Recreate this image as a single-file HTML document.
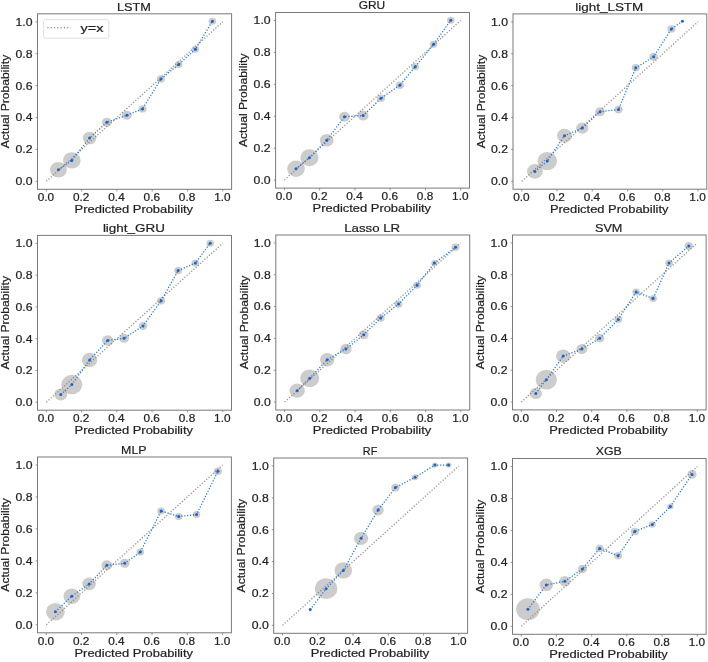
<!DOCTYPE html>
<html><head><meta charset="utf-8"><style>
html,body{margin:0;padding:0;background:#fff;width:708px;height:662px;overflow:hidden}
svg text{font-family:"Liberation Sans", sans-serif;fill:#222;stroke:#222;stroke-width:0.2px}
</style></head><body style="position:relative">
<svg width="708" height="662" viewBox="0 0 708 662" style="position:absolute;left:0;top:0;filter:blur(0.3px)">
<rect width="708" height="662" fill="#fff"/>
<g clip-path="url(#c0)"><clipPath id="c0"><rect x="37.5" y="13.8" width="194.1" height="175.5"/></clipPath><line x1="46.32" y1="181.32" x2="222.78" y2="21.78" stroke="#959595" stroke-width="1.35" stroke-dasharray="1.2 1.8" /><ellipse cx="58.4" cy="169.8" rx="8.40" ry="7.81" fill="#808080" fill-opacity="0.4"/><ellipse cx="71.8" cy="160.4" rx="8.80" ry="8.18" fill="#808080" fill-opacity="0.4"/><ellipse cx="89.6" cy="138.0" rx="6.80" ry="6.32" fill="#808080" fill-opacity="0.4"/><ellipse cx="106.9" cy="122.3" rx="4.90" ry="4.56" fill="#808080" fill-opacity="0.4"/><ellipse cx="126.9" cy="115.2" rx="4.90" ry="4.56" fill="#808080" fill-opacity="0.4"/><ellipse cx="142.5" cy="108.9" rx="4.00" ry="3.72" fill="#808080" fill-opacity="0.4"/><ellipse cx="160.9" cy="79.0" rx="4.00" ry="3.72" fill="#808080" fill-opacity="0.4"/><ellipse cx="178.7" cy="64.5" rx="3.80" ry="3.53" fill="#808080" fill-opacity="0.4"/><ellipse cx="195.4" cy="49.2" rx="3.80" ry="3.53" fill="#808080" fill-opacity="0.4"/><ellipse cx="212.4" cy="21.2" rx="3.80" ry="3.53" fill="#808080" fill-opacity="0.4"/><path d="M58.4,169.8 L71.8,160.4 L89.6,138.0 L106.9,122.3 L126.9,115.2 L142.5,108.9 L160.9,79.0 L178.7,64.5 L195.4,49.2 L212.4,21.2" fill="none" stroke="#2a7acc" stroke-width="1.3" stroke-dasharray="1.2 1.7"/><circle cx="58.4" cy="169.8" r="1.5" fill="#1f63c4"/><circle cx="71.8" cy="160.4" r="1.5" fill="#1f63c4"/><circle cx="89.6" cy="138.0" r="1.5" fill="#1f63c4"/><circle cx="106.9" cy="122.3" r="1.5" fill="#1f63c4"/><circle cx="126.9" cy="115.2" r="1.5" fill="#1f63c4"/><circle cx="142.5" cy="108.9" r="1.5" fill="#1f63c4"/><circle cx="160.9" cy="79.0" r="1.5" fill="#1f63c4"/><circle cx="178.7" cy="64.5" r="1.5" fill="#1f63c4"/><circle cx="195.4" cy="49.2" r="1.5" fill="#1f63c4"/><circle cx="212.4" cy="21.2" r="1.5" fill="#1f63c4"/></g>
<rect x="37.5" y="13.8" width="194.10" height="175.50" fill="none" stroke="#7a7a7a" stroke-width="1"/>
<line x1="46.32" y1="189.3" x2="46.32" y2="191.5" stroke="#7a7a7a" stroke-width="0.8"/>
<text x="45.92" y="201.30" font-size="10.0" text-anchor="middle" textLength="16.4" lengthAdjust="spacingAndGlyphs">0.0</text>
<line x1="35.6" y1="181.32" x2="37.5" y2="181.32" stroke="#7a7a7a" stroke-width="0.8"/>
<text x="32.50" y="185.22" font-size="10.0" text-anchor="end" textLength="17.0" lengthAdjust="spacingAndGlyphs">0.0</text>
<line x1="81.61" y1="189.3" x2="81.61" y2="191.5" stroke="#7a7a7a" stroke-width="0.8"/>
<text x="81.21" y="201.30" font-size="10.0" text-anchor="middle" textLength="16.4" lengthAdjust="spacingAndGlyphs">0.2</text>
<line x1="35.6" y1="149.41" x2="37.5" y2="149.41" stroke="#7a7a7a" stroke-width="0.8"/>
<text x="32.50" y="153.31" font-size="10.0" text-anchor="end" textLength="17.0" lengthAdjust="spacingAndGlyphs">0.2</text>
<line x1="116.90" y1="189.3" x2="116.90" y2="191.5" stroke="#7a7a7a" stroke-width="0.8"/>
<text x="116.50" y="201.30" font-size="10.0" text-anchor="middle" textLength="16.4" lengthAdjust="spacingAndGlyphs">0.4</text>
<line x1="35.6" y1="117.50" x2="37.5" y2="117.50" stroke="#7a7a7a" stroke-width="0.8"/>
<text x="32.50" y="121.40" font-size="10.0" text-anchor="end" textLength="17.0" lengthAdjust="spacingAndGlyphs">0.4</text>
<line x1="152.20" y1="189.3" x2="152.20" y2="191.5" stroke="#7a7a7a" stroke-width="0.8"/>
<text x="151.80" y="201.30" font-size="10.0" text-anchor="middle" textLength="16.4" lengthAdjust="spacingAndGlyphs">0.6</text>
<line x1="35.6" y1="85.60" x2="37.5" y2="85.60" stroke="#7a7a7a" stroke-width="0.8"/>
<text x="32.50" y="89.50" font-size="10.0" text-anchor="end" textLength="17.0" lengthAdjust="spacingAndGlyphs">0.6</text>
<line x1="187.49" y1="189.3" x2="187.49" y2="191.5" stroke="#7a7a7a" stroke-width="0.8"/>
<text x="187.09" y="201.30" font-size="10.0" text-anchor="middle" textLength="16.4" lengthAdjust="spacingAndGlyphs">0.8</text>
<line x1="35.6" y1="53.69" x2="37.5" y2="53.69" stroke="#7a7a7a" stroke-width="0.8"/>
<text x="32.50" y="57.59" font-size="10.0" text-anchor="end" textLength="17.0" lengthAdjust="spacingAndGlyphs">0.8</text>
<line x1="222.78" y1="189.3" x2="222.78" y2="191.5" stroke="#7a7a7a" stroke-width="0.8"/>
<text x="222.38" y="201.30" font-size="10.0" text-anchor="middle" textLength="16.4" lengthAdjust="spacingAndGlyphs">1.0</text>
<line x1="35.6" y1="21.78" x2="37.5" y2="21.78" stroke="#7a7a7a" stroke-width="0.8"/>
<text x="32.50" y="25.68" font-size="10.0" text-anchor="end" textLength="17.0" lengthAdjust="spacingAndGlyphs">1.0</text>
<text x="133.85" y="213.30" font-size="10.8" text-anchor="middle" textLength="118.5" lengthAdjust="spacingAndGlyphs">Predicted Probability</text>
<text transform="translate(9.20,101.55) rotate(-90)" x="0" y="0" font-size="10.8" text-anchor="middle" textLength="93.5" lengthAdjust="spacingAndGlyphs">Actual Probability</text>
<text x="133.95" y="10.70" font-size="11.4" text-anchor="middle" textLength="34.0" lengthAdjust="spacingAndGlyphs">LSTM</text>
<g clip-path="url(#c1)"><clipPath id="c1"><rect x="275.6" y="12.5" width="193.89999999999998" height="175.6"/></clipPath><line x1="284.41" y1="180.12" x2="460.69" y2="20.48" stroke="#959595" stroke-width="1.35" stroke-dasharray="1.2 1.8" /><ellipse cx="296.0" cy="168.8" rx="8.80" ry="8.18" fill="#808080" fill-opacity="0.4"/><ellipse cx="309.4" cy="157.8" rx="9.10" ry="8.46" fill="#808080" fill-opacity="0.4"/><ellipse cx="326.7" cy="140.3" rx="6.80" ry="6.32" fill="#808080" fill-opacity="0.4"/><ellipse cx="344.5" cy="116.7" rx="5.40" ry="5.02" fill="#808080" fill-opacity="0.4"/><ellipse cx="363.1" cy="115.6" rx="5.40" ry="5.02" fill="#808080" fill-opacity="0.4"/><ellipse cx="381.0" cy="98.3" rx="4.00" ry="3.72" fill="#808080" fill-opacity="0.4"/><ellipse cx="399.9" cy="85.2" rx="4.00" ry="3.72" fill="#808080" fill-opacity="0.4"/><ellipse cx="415.2" cy="66.8" rx="3.80" ry="3.53" fill="#808080" fill-opacity="0.4"/><ellipse cx="433.6" cy="44.3" rx="3.80" ry="3.53" fill="#808080" fill-opacity="0.4"/><ellipse cx="450.8" cy="20.2" rx="3.80" ry="3.53" fill="#808080" fill-opacity="0.4"/><path d="M296.0,168.8 L309.4,157.8 L326.7,140.3 L344.5,116.7 L363.1,115.6 L381.0,98.3 L399.9,85.2 L415.2,66.8 L433.6,44.3 L450.8,20.2" fill="none" stroke="#2a7acc" stroke-width="1.3" stroke-dasharray="1.2 1.7"/><circle cx="296.0" cy="168.8" r="1.5" fill="#1f63c4"/><circle cx="309.4" cy="157.8" r="1.5" fill="#1f63c4"/><circle cx="326.7" cy="140.3" r="1.5" fill="#1f63c4"/><circle cx="344.5" cy="116.7" r="1.5" fill="#1f63c4"/><circle cx="363.1" cy="115.6" r="1.5" fill="#1f63c4"/><circle cx="381.0" cy="98.3" r="1.5" fill="#1f63c4"/><circle cx="399.9" cy="85.2" r="1.5" fill="#1f63c4"/><circle cx="415.2" cy="66.8" r="1.5" fill="#1f63c4"/><circle cx="433.6" cy="44.3" r="1.5" fill="#1f63c4"/><circle cx="450.8" cy="20.2" r="1.5" fill="#1f63c4"/></g>
<rect x="275.6" y="12.5" width="193.90" height="175.60" fill="none" stroke="#7a7a7a" stroke-width="1"/>
<line x1="284.41" y1="188.1" x2="284.41" y2="190.29999999999998" stroke="#7a7a7a" stroke-width="0.8"/>
<text x="284.01" y="200.10" font-size="10.0" text-anchor="middle" textLength="16.4" lengthAdjust="spacingAndGlyphs">0.0</text>
<line x1="273.70000000000005" y1="180.12" x2="275.6" y2="180.12" stroke="#7a7a7a" stroke-width="0.8"/>
<text x="270.60" y="184.02" font-size="10.0" text-anchor="end" textLength="17.0" lengthAdjust="spacingAndGlyphs">0.0</text>
<line x1="319.67" y1="188.1" x2="319.67" y2="190.29999999999998" stroke="#7a7a7a" stroke-width="0.8"/>
<text x="319.27" y="200.10" font-size="10.0" text-anchor="middle" textLength="16.4" lengthAdjust="spacingAndGlyphs">0.2</text>
<line x1="273.70000000000005" y1="148.19" x2="275.6" y2="148.19" stroke="#7a7a7a" stroke-width="0.8"/>
<text x="270.60" y="152.09" font-size="10.0" text-anchor="end" textLength="17.0" lengthAdjust="spacingAndGlyphs">0.2</text>
<line x1="354.92" y1="188.1" x2="354.92" y2="190.29999999999998" stroke="#7a7a7a" stroke-width="0.8"/>
<text x="354.52" y="200.10" font-size="10.0" text-anchor="middle" textLength="16.4" lengthAdjust="spacingAndGlyphs">0.4</text>
<line x1="273.70000000000005" y1="116.26" x2="275.6" y2="116.26" stroke="#7a7a7a" stroke-width="0.8"/>
<text x="270.60" y="120.16" font-size="10.0" text-anchor="end" textLength="17.0" lengthAdjust="spacingAndGlyphs">0.4</text>
<line x1="390.18" y1="188.1" x2="390.18" y2="190.29999999999998" stroke="#7a7a7a" stroke-width="0.8"/>
<text x="389.78" y="200.10" font-size="10.0" text-anchor="middle" textLength="16.4" lengthAdjust="spacingAndGlyphs">0.6</text>
<line x1="273.70000000000005" y1="84.34" x2="275.6" y2="84.34" stroke="#7a7a7a" stroke-width="0.8"/>
<text x="270.60" y="88.24" font-size="10.0" text-anchor="end" textLength="17.0" lengthAdjust="spacingAndGlyphs">0.6</text>
<line x1="425.43" y1="188.1" x2="425.43" y2="190.29999999999998" stroke="#7a7a7a" stroke-width="0.8"/>
<text x="425.03" y="200.10" font-size="10.0" text-anchor="middle" textLength="16.4" lengthAdjust="spacingAndGlyphs">0.8</text>
<line x1="273.70000000000005" y1="52.41" x2="275.6" y2="52.41" stroke="#7a7a7a" stroke-width="0.8"/>
<text x="270.60" y="56.31" font-size="10.0" text-anchor="end" textLength="17.0" lengthAdjust="spacingAndGlyphs">0.8</text>
<line x1="460.69" y1="188.1" x2="460.69" y2="190.29999999999998" stroke="#7a7a7a" stroke-width="0.8"/>
<text x="460.29" y="200.10" font-size="10.0" text-anchor="middle" textLength="16.4" lengthAdjust="spacingAndGlyphs">1.0</text>
<line x1="273.70000000000005" y1="20.48" x2="275.6" y2="20.48" stroke="#7a7a7a" stroke-width="0.8"/>
<text x="270.60" y="24.38" font-size="10.0" text-anchor="end" textLength="17.0" lengthAdjust="spacingAndGlyphs">1.0</text>
<text x="371.85" y="212.10" font-size="10.8" text-anchor="middle" textLength="118.5" lengthAdjust="spacingAndGlyphs">Predicted Probability</text>
<text transform="translate(247.30,100.30) rotate(-90)" x="0" y="0" font-size="10.8" text-anchor="middle" textLength="93.5" lengthAdjust="spacingAndGlyphs">Actual Probability</text>
<text x="371.95" y="9.40" font-size="11.4" text-anchor="middle" textLength="26.5" lengthAdjust="spacingAndGlyphs">GRU</text>
<g clip-path="url(#c2)"><clipPath id="c2"><rect x="513.0" y="13.9" width="193.79999999999995" height="175.29999999999998"/></clipPath><line x1="521.81" y1="181.23" x2="697.99" y2="21.87" stroke="#959595" stroke-width="1.35" stroke-dasharray="1.2 1.8" /><ellipse cx="534.9" cy="171.4" rx="7.90" ry="7.35" fill="#808080" fill-opacity="0.4"/><ellipse cx="547.3" cy="161.0" rx="9.80" ry="9.11" fill="#808080" fill-opacity="0.4"/><ellipse cx="564.5" cy="135.8" rx="7.50" ry="6.98" fill="#808080" fill-opacity="0.4"/><ellipse cx="582.3" cy="128.1" rx="6.10" ry="5.67" fill="#808080" fill-opacity="0.4"/><ellipse cx="600.1" cy="111.7" rx="4.90" ry="4.56" fill="#808080" fill-opacity="0.4"/><ellipse cx="618.5" cy="109.5" rx="4.30" ry="4.00" fill="#808080" fill-opacity="0.4"/><ellipse cx="635.8" cy="67.8" rx="4.00" ry="3.72" fill="#808080" fill-opacity="0.4"/><ellipse cx="653.6" cy="56.8" rx="4.30" ry="4.00" fill="#808080" fill-opacity="0.4"/><ellipse cx="671.4" cy="28.9" rx="4.00" ry="3.72" fill="#808080" fill-opacity="0.4"/><path d="M534.9,171.4 L547.3,161.0 L564.5,135.8 L582.3,128.1 L600.1,111.7 L618.5,109.5 L635.8,67.8 L653.6,56.8 L671.4,28.9 L682.4,21.2" fill="none" stroke="#2a7acc" stroke-width="1.3" stroke-dasharray="1.2 1.7"/><circle cx="534.9" cy="171.4" r="1.5" fill="#1f63c4"/><circle cx="547.3" cy="161.0" r="1.5" fill="#1f63c4"/><circle cx="564.5" cy="135.8" r="1.5" fill="#1f63c4"/><circle cx="582.3" cy="128.1" r="1.5" fill="#1f63c4"/><circle cx="600.1" cy="111.7" r="1.5" fill="#1f63c4"/><circle cx="618.5" cy="109.5" r="1.5" fill="#1f63c4"/><circle cx="635.8" cy="67.8" r="1.5" fill="#1f63c4"/><circle cx="653.6" cy="56.8" r="1.5" fill="#1f63c4"/><circle cx="671.4" cy="28.9" r="1.5" fill="#1f63c4"/><circle cx="682.4" cy="21.2" r="1.5" fill="#1f63c4"/></g>
<rect x="513.0" y="13.9" width="193.80" height="175.30" fill="none" stroke="#7a7a7a" stroke-width="1"/>
<line x1="521.81" y1="189.2" x2="521.81" y2="191.39999999999998" stroke="#7a7a7a" stroke-width="0.8"/>
<text x="521.41" y="201.20" font-size="10.0" text-anchor="middle" textLength="16.4" lengthAdjust="spacingAndGlyphs">0.0</text>
<line x1="511.1" y1="181.23" x2="513.0" y2="181.23" stroke="#7a7a7a" stroke-width="0.8"/>
<text x="508.00" y="185.13" font-size="10.0" text-anchor="end" textLength="17.0" lengthAdjust="spacingAndGlyphs">0.0</text>
<line x1="557.05" y1="189.2" x2="557.05" y2="191.39999999999998" stroke="#7a7a7a" stroke-width="0.8"/>
<text x="556.65" y="201.20" font-size="10.0" text-anchor="middle" textLength="16.4" lengthAdjust="spacingAndGlyphs">0.2</text>
<line x1="511.1" y1="149.36" x2="513.0" y2="149.36" stroke="#7a7a7a" stroke-width="0.8"/>
<text x="508.00" y="153.26" font-size="10.0" text-anchor="end" textLength="17.0" lengthAdjust="spacingAndGlyphs">0.2</text>
<line x1="592.28" y1="189.2" x2="592.28" y2="191.39999999999998" stroke="#7a7a7a" stroke-width="0.8"/>
<text x="591.88" y="201.20" font-size="10.0" text-anchor="middle" textLength="16.4" lengthAdjust="spacingAndGlyphs">0.4</text>
<line x1="511.1" y1="117.49" x2="513.0" y2="117.49" stroke="#7a7a7a" stroke-width="0.8"/>
<text x="508.00" y="121.39" font-size="10.0" text-anchor="end" textLength="17.0" lengthAdjust="spacingAndGlyphs">0.4</text>
<line x1="627.52" y1="189.2" x2="627.52" y2="191.39999999999998" stroke="#7a7a7a" stroke-width="0.8"/>
<text x="627.12" y="201.20" font-size="10.0" text-anchor="middle" textLength="16.4" lengthAdjust="spacingAndGlyphs">0.6</text>
<line x1="511.1" y1="85.61" x2="513.0" y2="85.61" stroke="#7a7a7a" stroke-width="0.8"/>
<text x="508.00" y="89.51" font-size="10.0" text-anchor="end" textLength="17.0" lengthAdjust="spacingAndGlyphs">0.6</text>
<line x1="662.75" y1="189.2" x2="662.75" y2="191.39999999999998" stroke="#7a7a7a" stroke-width="0.8"/>
<text x="662.35" y="201.20" font-size="10.0" text-anchor="middle" textLength="16.4" lengthAdjust="spacingAndGlyphs">0.8</text>
<line x1="511.1" y1="53.74" x2="513.0" y2="53.74" stroke="#7a7a7a" stroke-width="0.8"/>
<text x="508.00" y="57.64" font-size="10.0" text-anchor="end" textLength="17.0" lengthAdjust="spacingAndGlyphs">0.8</text>
<line x1="697.99" y1="189.2" x2="697.99" y2="191.39999999999998" stroke="#7a7a7a" stroke-width="0.8"/>
<text x="697.59" y="201.20" font-size="10.0" text-anchor="middle" textLength="16.4" lengthAdjust="spacingAndGlyphs">1.0</text>
<line x1="511.1" y1="21.87" x2="513.0" y2="21.87" stroke="#7a7a7a" stroke-width="0.8"/>
<text x="508.00" y="25.77" font-size="10.0" text-anchor="end" textLength="17.0" lengthAdjust="spacingAndGlyphs">1.0</text>
<text x="609.20" y="213.20" font-size="10.8" text-anchor="middle" textLength="118.5" lengthAdjust="spacingAndGlyphs">Predicted Probability</text>
<text transform="translate(484.70,101.55) rotate(-90)" x="0" y="0" font-size="10.8" text-anchor="middle" textLength="93.5" lengthAdjust="spacingAndGlyphs">Actual Probability</text>
<text x="609.30" y="10.80" font-size="11.4" text-anchor="middle" textLength="68.0" lengthAdjust="spacingAndGlyphs">light_LSTM</text>
<g clip-path="url(#c3)"><clipPath id="c3"><rect x="37.5" y="235.4" width="194.0" height="174.79999999999998"/></clipPath><line x1="46.32" y1="402.25" x2="222.68" y2="243.35" stroke="#959595" stroke-width="1.35" stroke-dasharray="1.2 1.8" /><ellipse cx="60.8" cy="394.5" rx="6.40" ry="5.95" fill="#808080" fill-opacity="0.4"/><ellipse cx="71.8" cy="384.6" rx="10.50" ry="9.77" fill="#808080" fill-opacity="0.4"/><ellipse cx="89.6" cy="360.0" rx="7.70" ry="7.16" fill="#808080" fill-opacity="0.4"/><ellipse cx="107.7" cy="340.5" rx="5.70" ry="5.30" fill="#808080" fill-opacity="0.4"/><ellipse cx="124.1" cy="338.3" rx="4.90" ry="4.56" fill="#808080" fill-opacity="0.4"/><ellipse cx="143.0" cy="326.0" rx="4.30" ry="4.00" fill="#808080" fill-opacity="0.4"/><ellipse cx="161.1" cy="300.8" rx="4.00" ry="3.72" fill="#808080" fill-opacity="0.4"/><ellipse cx="178.1" cy="270.6" rx="4.00" ry="3.72" fill="#808080" fill-opacity="0.4"/><ellipse cx="195.4" cy="263.0" rx="3.80" ry="3.53" fill="#808080" fill-opacity="0.4"/><ellipse cx="210.2" cy="243.2" rx="3.80" ry="3.53" fill="#808080" fill-opacity="0.4"/><path d="M60.8,394.5 L71.8,384.6 L89.6,360.0 L107.7,340.5 L124.1,338.3 L143.0,326.0 L161.1,300.8 L178.1,270.6 L195.4,263.0 L210.2,243.2" fill="none" stroke="#2a7acc" stroke-width="1.3" stroke-dasharray="1.2 1.7"/><circle cx="60.8" cy="394.5" r="1.5" fill="#1f63c4"/><circle cx="71.8" cy="384.6" r="1.5" fill="#1f63c4"/><circle cx="89.6" cy="360.0" r="1.5" fill="#1f63c4"/><circle cx="107.7" cy="340.5" r="1.5" fill="#1f63c4"/><circle cx="124.1" cy="338.3" r="1.5" fill="#1f63c4"/><circle cx="143.0" cy="326.0" r="1.5" fill="#1f63c4"/><circle cx="161.1" cy="300.8" r="1.5" fill="#1f63c4"/><circle cx="178.1" cy="270.6" r="1.5" fill="#1f63c4"/><circle cx="195.4" cy="263.0" r="1.5" fill="#1f63c4"/><circle cx="210.2" cy="243.2" r="1.5" fill="#1f63c4"/></g>
<rect x="37.5" y="235.4" width="194.00" height="174.80" fill="none" stroke="#7a7a7a" stroke-width="1"/>
<line x1="46.32" y1="410.2" x2="46.32" y2="412.4" stroke="#7a7a7a" stroke-width="0.8"/>
<text x="45.92" y="422.20" font-size="10.0" text-anchor="middle" textLength="16.4" lengthAdjust="spacingAndGlyphs">0.0</text>
<line x1="35.6" y1="402.25" x2="37.5" y2="402.25" stroke="#7a7a7a" stroke-width="0.8"/>
<text x="32.50" y="406.15" font-size="10.0" text-anchor="end" textLength="17.0" lengthAdjust="spacingAndGlyphs">0.0</text>
<line x1="81.59" y1="410.2" x2="81.59" y2="412.4" stroke="#7a7a7a" stroke-width="0.8"/>
<text x="81.19" y="422.20" font-size="10.0" text-anchor="middle" textLength="16.4" lengthAdjust="spacingAndGlyphs">0.2</text>
<line x1="35.6" y1="370.47" x2="37.5" y2="370.47" stroke="#7a7a7a" stroke-width="0.8"/>
<text x="32.50" y="374.37" font-size="10.0" text-anchor="end" textLength="17.0" lengthAdjust="spacingAndGlyphs">0.2</text>
<line x1="116.86" y1="410.2" x2="116.86" y2="412.4" stroke="#7a7a7a" stroke-width="0.8"/>
<text x="116.46" y="422.20" font-size="10.0" text-anchor="middle" textLength="16.4" lengthAdjust="spacingAndGlyphs">0.4</text>
<line x1="35.6" y1="338.69" x2="37.5" y2="338.69" stroke="#7a7a7a" stroke-width="0.8"/>
<text x="32.50" y="342.59" font-size="10.0" text-anchor="end" textLength="17.0" lengthAdjust="spacingAndGlyphs">0.4</text>
<line x1="152.14" y1="410.2" x2="152.14" y2="412.4" stroke="#7a7a7a" stroke-width="0.8"/>
<text x="151.74" y="422.20" font-size="10.0" text-anchor="middle" textLength="16.4" lengthAdjust="spacingAndGlyphs">0.6</text>
<line x1="35.6" y1="306.91" x2="37.5" y2="306.91" stroke="#7a7a7a" stroke-width="0.8"/>
<text x="32.50" y="310.81" font-size="10.0" text-anchor="end" textLength="17.0" lengthAdjust="spacingAndGlyphs">0.6</text>
<line x1="187.41" y1="410.2" x2="187.41" y2="412.4" stroke="#7a7a7a" stroke-width="0.8"/>
<text x="187.01" y="422.20" font-size="10.0" text-anchor="middle" textLength="16.4" lengthAdjust="spacingAndGlyphs">0.8</text>
<line x1="35.6" y1="275.13" x2="37.5" y2="275.13" stroke="#7a7a7a" stroke-width="0.8"/>
<text x="32.50" y="279.03" font-size="10.0" text-anchor="end" textLength="17.0" lengthAdjust="spacingAndGlyphs">0.8</text>
<line x1="222.68" y1="410.2" x2="222.68" y2="412.4" stroke="#7a7a7a" stroke-width="0.8"/>
<text x="222.28" y="422.20" font-size="10.0" text-anchor="middle" textLength="16.4" lengthAdjust="spacingAndGlyphs">1.0</text>
<line x1="35.6" y1="243.35" x2="37.5" y2="243.35" stroke="#7a7a7a" stroke-width="0.8"/>
<text x="32.50" y="247.25" font-size="10.0" text-anchor="end" textLength="17.0" lengthAdjust="spacingAndGlyphs">1.0</text>
<text x="133.80" y="434.20" font-size="10.8" text-anchor="middle" textLength="118.5" lengthAdjust="spacingAndGlyphs">Predicted Probability</text>
<text transform="translate(9.20,322.80) rotate(-90)" x="0" y="0" font-size="10.8" text-anchor="middle" textLength="93.5" lengthAdjust="spacingAndGlyphs">Actual Probability</text>
<text x="133.90" y="232.30" font-size="11.4" text-anchor="middle" textLength="62.0" lengthAdjust="spacingAndGlyphs">light_GRU</text>
<g clip-path="url(#c4)"><clipPath id="c4"><rect x="275.8" y="235.0" width="193.89999999999998" height="175.0"/></clipPath><line x1="284.61" y1="402.05" x2="460.89" y2="242.95" stroke="#959595" stroke-width="1.35" stroke-dasharray="1.2 1.8" /><ellipse cx="297.1" cy="390.7" rx="7.70" ry="7.16" fill="#808080" fill-opacity="0.4"/><ellipse cx="309.7" cy="378.3" rx="9.50" ry="8.84" fill="#808080" fill-opacity="0.4"/><ellipse cx="327.2" cy="359.7" rx="7.20" ry="6.70" fill="#808080" fill-opacity="0.4"/><ellipse cx="345.9" cy="349.0" rx="5.70" ry="5.30" fill="#808080" fill-opacity="0.4"/><ellipse cx="363.7" cy="334.8" rx="4.90" ry="4.56" fill="#808080" fill-opacity="0.4"/><ellipse cx="380.7" cy="318.0" rx="4.00" ry="3.72" fill="#808080" fill-opacity="0.4"/><ellipse cx="398.5" cy="304.1" rx="4.00" ry="3.72" fill="#808080" fill-opacity="0.4"/><ellipse cx="417.1" cy="285.2" rx="3.80" ry="3.53" fill="#808080" fill-opacity="0.4"/><ellipse cx="434.4" cy="263.0" rx="3.20" ry="2.98" fill="#808080" fill-opacity="0.4"/><ellipse cx="455.5" cy="247.3" rx="4.00" ry="3.72" fill="#808080" fill-opacity="0.4"/><path d="M297.1,390.7 L309.7,378.3 L327.2,359.7 L345.9,349.0 L363.7,334.8 L380.7,318.0 L398.5,304.1 L417.1,285.2 L434.4,263.0 L455.5,247.3" fill="none" stroke="#2a7acc" stroke-width="1.3" stroke-dasharray="1.2 1.7"/><circle cx="297.1" cy="390.7" r="1.5" fill="#1f63c4"/><circle cx="309.7" cy="378.3" r="1.5" fill="#1f63c4"/><circle cx="327.2" cy="359.7" r="1.5" fill="#1f63c4"/><circle cx="345.9" cy="349.0" r="1.5" fill="#1f63c4"/><circle cx="363.7" cy="334.8" r="1.5" fill="#1f63c4"/><circle cx="380.7" cy="318.0" r="1.5" fill="#1f63c4"/><circle cx="398.5" cy="304.1" r="1.5" fill="#1f63c4"/><circle cx="417.1" cy="285.2" r="1.5" fill="#1f63c4"/><circle cx="434.4" cy="263.0" r="1.5" fill="#1f63c4"/><circle cx="455.5" cy="247.3" r="1.5" fill="#1f63c4"/></g>
<rect x="275.8" y="235.0" width="193.90" height="175.00" fill="none" stroke="#7a7a7a" stroke-width="1"/>
<line x1="284.61" y1="410.0" x2="284.61" y2="412.2" stroke="#7a7a7a" stroke-width="0.8"/>
<text x="284.21" y="422.00" font-size="10.0" text-anchor="middle" textLength="16.4" lengthAdjust="spacingAndGlyphs">0.0</text>
<line x1="273.90000000000003" y1="402.05" x2="275.8" y2="402.05" stroke="#7a7a7a" stroke-width="0.8"/>
<text x="270.80" y="405.95" font-size="10.0" text-anchor="end" textLength="17.0" lengthAdjust="spacingAndGlyphs">0.0</text>
<line x1="319.87" y1="410.0" x2="319.87" y2="412.2" stroke="#7a7a7a" stroke-width="0.8"/>
<text x="319.47" y="422.00" font-size="10.0" text-anchor="middle" textLength="16.4" lengthAdjust="spacingAndGlyphs">0.2</text>
<line x1="273.90000000000003" y1="370.23" x2="275.8" y2="370.23" stroke="#7a7a7a" stroke-width="0.8"/>
<text x="270.80" y="374.13" font-size="10.0" text-anchor="end" textLength="17.0" lengthAdjust="spacingAndGlyphs">0.2</text>
<line x1="355.12" y1="410.0" x2="355.12" y2="412.2" stroke="#7a7a7a" stroke-width="0.8"/>
<text x="354.72" y="422.00" font-size="10.0" text-anchor="middle" textLength="16.4" lengthAdjust="spacingAndGlyphs">0.4</text>
<line x1="273.90000000000003" y1="338.41" x2="275.8" y2="338.41" stroke="#7a7a7a" stroke-width="0.8"/>
<text x="270.80" y="342.31" font-size="10.0" text-anchor="end" textLength="17.0" lengthAdjust="spacingAndGlyphs">0.4</text>
<line x1="390.38" y1="410.0" x2="390.38" y2="412.2" stroke="#7a7a7a" stroke-width="0.8"/>
<text x="389.98" y="422.00" font-size="10.0" text-anchor="middle" textLength="16.4" lengthAdjust="spacingAndGlyphs">0.6</text>
<line x1="273.90000000000003" y1="306.59" x2="275.8" y2="306.59" stroke="#7a7a7a" stroke-width="0.8"/>
<text x="270.80" y="310.49" font-size="10.0" text-anchor="end" textLength="17.0" lengthAdjust="spacingAndGlyphs">0.6</text>
<line x1="425.63" y1="410.0" x2="425.63" y2="412.2" stroke="#7a7a7a" stroke-width="0.8"/>
<text x="425.23" y="422.00" font-size="10.0" text-anchor="middle" textLength="16.4" lengthAdjust="spacingAndGlyphs">0.8</text>
<line x1="273.90000000000003" y1="274.77" x2="275.8" y2="274.77" stroke="#7a7a7a" stroke-width="0.8"/>
<text x="270.80" y="278.67" font-size="10.0" text-anchor="end" textLength="17.0" lengthAdjust="spacingAndGlyphs">0.8</text>
<line x1="460.89" y1="410.0" x2="460.89" y2="412.2" stroke="#7a7a7a" stroke-width="0.8"/>
<text x="460.49" y="422.00" font-size="10.0" text-anchor="middle" textLength="16.4" lengthAdjust="spacingAndGlyphs">1.0</text>
<line x1="273.90000000000003" y1="242.95" x2="275.8" y2="242.95" stroke="#7a7a7a" stroke-width="0.8"/>
<text x="270.80" y="246.85" font-size="10.0" text-anchor="end" textLength="17.0" lengthAdjust="spacingAndGlyphs">1.0</text>
<text x="372.05" y="434.00" font-size="10.8" text-anchor="middle" textLength="118.5" lengthAdjust="spacingAndGlyphs">Predicted Probability</text>
<text transform="translate(247.50,322.50) rotate(-90)" x="0" y="0" font-size="10.8" text-anchor="middle" textLength="93.5" lengthAdjust="spacingAndGlyphs">Actual Probability</text>
<text x="372.15" y="231.90" font-size="11.4" text-anchor="middle" textLength="56.0" lengthAdjust="spacingAndGlyphs">Lasso LR</text>
<g clip-path="url(#c5)"><clipPath id="c5"><rect x="512.5" y="235.0" width="193.60000000000002" height="174.89999999999998"/></clipPath><line x1="521.30" y1="401.95" x2="697.30" y2="242.95" stroke="#959595" stroke-width="1.35" stroke-dasharray="1.2 1.8" /><ellipse cx="535.8" cy="393.4" rx="6.10" ry="5.67" fill="#808080" fill-opacity="0.4"/><ellipse cx="546.3" cy="379.7" rx="10.60" ry="9.86" fill="#808080" fill-opacity="0.4"/><ellipse cx="563.2" cy="356.1" rx="7.20" ry="6.70" fill="#808080" fill-opacity="0.4"/><ellipse cx="581.9" cy="349.0" rx="5.50" ry="5.12" fill="#808080" fill-opacity="0.4"/><ellipse cx="599.7" cy="338.3" rx="4.60" ry="4.28" fill="#808080" fill-opacity="0.4"/><ellipse cx="618.3" cy="319.4" rx="3.80" ry="3.53" fill="#808080" fill-opacity="0.4"/><ellipse cx="636.1" cy="292.0" rx="3.80" ry="3.53" fill="#808080" fill-opacity="0.4"/><ellipse cx="653.1" cy="298.6" rx="3.80" ry="3.53" fill="#808080" fill-opacity="0.4"/><ellipse cx="669.0" cy="263.0" rx="3.80" ry="3.53" fill="#808080" fill-opacity="0.4"/><ellipse cx="688.8" cy="246.0" rx="4.30" ry="4.00" fill="#808080" fill-opacity="0.4"/><path d="M535.8,393.4 L546.3,379.7 L563.2,356.1 L581.9,349.0 L599.7,338.3 L618.3,319.4 L636.1,292.0 L653.1,298.6 L669.0,263.0 L688.8,246.0" fill="none" stroke="#2a7acc" stroke-width="1.3" stroke-dasharray="1.2 1.7"/><circle cx="535.8" cy="393.4" r="1.5" fill="#1f63c4"/><circle cx="546.3" cy="379.7" r="1.5" fill="#1f63c4"/><circle cx="563.2" cy="356.1" r="1.5" fill="#1f63c4"/><circle cx="581.9" cy="349.0" r="1.5" fill="#1f63c4"/><circle cx="599.7" cy="338.3" r="1.5" fill="#1f63c4"/><circle cx="618.3" cy="319.4" r="1.5" fill="#1f63c4"/><circle cx="636.1" cy="292.0" r="1.5" fill="#1f63c4"/><circle cx="653.1" cy="298.6" r="1.5" fill="#1f63c4"/><circle cx="669.0" cy="263.0" r="1.5" fill="#1f63c4"/><circle cx="688.8" cy="246.0" r="1.5" fill="#1f63c4"/></g>
<rect x="512.5" y="235.0" width="193.60" height="174.90" fill="none" stroke="#7a7a7a" stroke-width="1"/>
<line x1="521.30" y1="409.9" x2="521.30" y2="412.09999999999997" stroke="#7a7a7a" stroke-width="0.8"/>
<text x="520.90" y="421.90" font-size="10.0" text-anchor="middle" textLength="16.4" lengthAdjust="spacingAndGlyphs">0.0</text>
<line x1="510.6" y1="401.95" x2="512.5" y2="401.95" stroke="#7a7a7a" stroke-width="0.8"/>
<text x="507.50" y="405.85" font-size="10.0" text-anchor="end" textLength="17.0" lengthAdjust="spacingAndGlyphs">0.0</text>
<line x1="556.50" y1="409.9" x2="556.50" y2="412.09999999999997" stroke="#7a7a7a" stroke-width="0.8"/>
<text x="556.10" y="421.90" font-size="10.0" text-anchor="middle" textLength="16.4" lengthAdjust="spacingAndGlyphs">0.2</text>
<line x1="510.6" y1="370.15" x2="512.5" y2="370.15" stroke="#7a7a7a" stroke-width="0.8"/>
<text x="507.50" y="374.05" font-size="10.0" text-anchor="end" textLength="17.0" lengthAdjust="spacingAndGlyphs">0.2</text>
<line x1="591.70" y1="409.9" x2="591.70" y2="412.09999999999997" stroke="#7a7a7a" stroke-width="0.8"/>
<text x="591.30" y="421.90" font-size="10.0" text-anchor="middle" textLength="16.4" lengthAdjust="spacingAndGlyphs">0.4</text>
<line x1="510.6" y1="338.35" x2="512.5" y2="338.35" stroke="#7a7a7a" stroke-width="0.8"/>
<text x="507.50" y="342.25" font-size="10.0" text-anchor="end" textLength="17.0" lengthAdjust="spacingAndGlyphs">0.4</text>
<line x1="626.90" y1="409.9" x2="626.90" y2="412.09999999999997" stroke="#7a7a7a" stroke-width="0.8"/>
<text x="626.50" y="421.90" font-size="10.0" text-anchor="middle" textLength="16.4" lengthAdjust="spacingAndGlyphs">0.6</text>
<line x1="510.6" y1="306.55" x2="512.5" y2="306.55" stroke="#7a7a7a" stroke-width="0.8"/>
<text x="507.50" y="310.45" font-size="10.0" text-anchor="end" textLength="17.0" lengthAdjust="spacingAndGlyphs">0.6</text>
<line x1="662.10" y1="409.9" x2="662.10" y2="412.09999999999997" stroke="#7a7a7a" stroke-width="0.8"/>
<text x="661.70" y="421.90" font-size="10.0" text-anchor="middle" textLength="16.4" lengthAdjust="spacingAndGlyphs">0.8</text>
<line x1="510.6" y1="274.75" x2="512.5" y2="274.75" stroke="#7a7a7a" stroke-width="0.8"/>
<text x="507.50" y="278.65" font-size="10.0" text-anchor="end" textLength="17.0" lengthAdjust="spacingAndGlyphs">0.8</text>
<line x1="697.30" y1="409.9" x2="697.30" y2="412.09999999999997" stroke="#7a7a7a" stroke-width="0.8"/>
<text x="696.90" y="421.90" font-size="10.0" text-anchor="middle" textLength="16.4" lengthAdjust="spacingAndGlyphs">1.0</text>
<line x1="510.6" y1="242.95" x2="512.5" y2="242.95" stroke="#7a7a7a" stroke-width="0.8"/>
<text x="507.50" y="246.85" font-size="10.0" text-anchor="end" textLength="17.0" lengthAdjust="spacingAndGlyphs">1.0</text>
<text x="608.60" y="433.90" font-size="10.8" text-anchor="middle" textLength="118.5" lengthAdjust="spacingAndGlyphs">Predicted Probability</text>
<text transform="translate(484.20,322.45) rotate(-90)" x="0" y="0" font-size="10.8" text-anchor="middle" textLength="93.5" lengthAdjust="spacingAndGlyphs">Actual Probability</text>
<text x="608.70" y="231.90" font-size="11.4" text-anchor="middle" textLength="27.5" lengthAdjust="spacingAndGlyphs">SVM</text>
<g clip-path="url(#c6)"><clipPath id="c6"><rect x="37.5" y="457.0" width="193.9" height="175.79999999999995"/></clipPath><line x1="46.31" y1="624.81" x2="222.59" y2="464.99" stroke="#959595" stroke-width="1.35" stroke-dasharray="1.2 1.8" /><ellipse cx="55.4" cy="611.8" rx="9.40" ry="8.74" fill="#808080" fill-opacity="0.4"/><ellipse cx="71.8" cy="596.2" rx="8.40" ry="7.81" fill="#808080" fill-opacity="0.4"/><ellipse cx="89.1" cy="583.9" rx="6.80" ry="6.32" fill="#808080" fill-opacity="0.4"/><ellipse cx="106.9" cy="565.2" rx="5.40" ry="5.02" fill="#808080" fill-opacity="0.4"/><ellipse cx="124.7" cy="563.3" rx="4.90" ry="4.56" fill="#808080" fill-opacity="0.4"/><ellipse cx="140.3" cy="552.1" rx="3.80" ry="3.53" fill="#808080" fill-opacity="0.4"/><ellipse cx="161.1" cy="511.0" rx="3.80" ry="3.53" fill="#808080" fill-opacity="0.4"/><ellipse cx="178.7" cy="516.5" rx="3.80" ry="3.53" fill="#808080" fill-opacity="0.4"/><ellipse cx="196.5" cy="514.6" rx="3.80" ry="3.53" fill="#808080" fill-opacity="0.4"/><ellipse cx="217.9" cy="471.3" rx="4.00" ry="3.72" fill="#808080" fill-opacity="0.4"/><path d="M55.4,611.8 L71.8,596.2 L89.1,583.9 L106.9,565.2 L124.7,563.3 L140.3,552.1 L161.1,511.0 L178.7,516.5 L196.5,514.6 L217.9,471.3" fill="none" stroke="#2a7acc" stroke-width="1.3" stroke-dasharray="1.2 1.7"/><circle cx="55.4" cy="611.8" r="1.5" fill="#1f63c4"/><circle cx="71.8" cy="596.2" r="1.5" fill="#1f63c4"/><circle cx="89.1" cy="583.9" r="1.5" fill="#1f63c4"/><circle cx="106.9" cy="565.2" r="1.5" fill="#1f63c4"/><circle cx="124.7" cy="563.3" r="1.5" fill="#1f63c4"/><circle cx="140.3" cy="552.1" r="1.5" fill="#1f63c4"/><circle cx="161.1" cy="511.0" r="1.5" fill="#1f63c4"/><circle cx="178.7" cy="516.5" r="1.5" fill="#1f63c4"/><circle cx="196.5" cy="514.6" r="1.5" fill="#1f63c4"/><circle cx="217.9" cy="471.3" r="1.5" fill="#1f63c4"/></g>
<rect x="37.5" y="457.0" width="193.90" height="175.80" fill="none" stroke="#7a7a7a" stroke-width="1"/>
<line x1="46.31" y1="632.8" x2="46.31" y2="635.0" stroke="#7a7a7a" stroke-width="0.8"/>
<text x="45.91" y="644.80" font-size="10.0" text-anchor="middle" textLength="16.4" lengthAdjust="spacingAndGlyphs">0.0</text>
<line x1="35.6" y1="624.81" x2="37.5" y2="624.81" stroke="#7a7a7a" stroke-width="0.8"/>
<text x="32.50" y="628.71" font-size="10.0" text-anchor="end" textLength="17.0" lengthAdjust="spacingAndGlyphs">0.0</text>
<line x1="81.57" y1="632.8" x2="81.57" y2="635.0" stroke="#7a7a7a" stroke-width="0.8"/>
<text x="81.17" y="644.80" font-size="10.0" text-anchor="middle" textLength="16.4" lengthAdjust="spacingAndGlyphs">0.2</text>
<line x1="35.6" y1="592.85" x2="37.5" y2="592.85" stroke="#7a7a7a" stroke-width="0.8"/>
<text x="32.50" y="596.75" font-size="10.0" text-anchor="end" textLength="17.0" lengthAdjust="spacingAndGlyphs">0.2</text>
<line x1="116.82" y1="632.8" x2="116.82" y2="635.0" stroke="#7a7a7a" stroke-width="0.8"/>
<text x="116.42" y="644.80" font-size="10.0" text-anchor="middle" textLength="16.4" lengthAdjust="spacingAndGlyphs">0.4</text>
<line x1="35.6" y1="560.88" x2="37.5" y2="560.88" stroke="#7a7a7a" stroke-width="0.8"/>
<text x="32.50" y="564.78" font-size="10.0" text-anchor="end" textLength="17.0" lengthAdjust="spacingAndGlyphs">0.4</text>
<line x1="152.08" y1="632.8" x2="152.08" y2="635.0" stroke="#7a7a7a" stroke-width="0.8"/>
<text x="151.68" y="644.80" font-size="10.0" text-anchor="middle" textLength="16.4" lengthAdjust="spacingAndGlyphs">0.6</text>
<line x1="35.6" y1="528.92" x2="37.5" y2="528.92" stroke="#7a7a7a" stroke-width="0.8"/>
<text x="32.50" y="532.82" font-size="10.0" text-anchor="end" textLength="17.0" lengthAdjust="spacingAndGlyphs">0.6</text>
<line x1="187.33" y1="632.8" x2="187.33" y2="635.0" stroke="#7a7a7a" stroke-width="0.8"/>
<text x="186.93" y="644.80" font-size="10.0" text-anchor="middle" textLength="16.4" lengthAdjust="spacingAndGlyphs">0.8</text>
<line x1="35.6" y1="496.95" x2="37.5" y2="496.95" stroke="#7a7a7a" stroke-width="0.8"/>
<text x="32.50" y="500.85" font-size="10.0" text-anchor="end" textLength="17.0" lengthAdjust="spacingAndGlyphs">0.8</text>
<line x1="222.59" y1="632.8" x2="222.59" y2="635.0" stroke="#7a7a7a" stroke-width="0.8"/>
<text x="222.19" y="644.80" font-size="10.0" text-anchor="middle" textLength="16.4" lengthAdjust="spacingAndGlyphs">1.0</text>
<line x1="35.6" y1="464.99" x2="37.5" y2="464.99" stroke="#7a7a7a" stroke-width="0.8"/>
<text x="32.50" y="468.89" font-size="10.0" text-anchor="end" textLength="17.0" lengthAdjust="spacingAndGlyphs">1.0</text>
<text x="133.75" y="656.80" font-size="10.8" text-anchor="middle" textLength="118.5" lengthAdjust="spacingAndGlyphs">Predicted Probability</text>
<text transform="translate(9.20,544.90) rotate(-90)" x="0" y="0" font-size="10.8" text-anchor="middle" textLength="93.5" lengthAdjust="spacingAndGlyphs">Actual Probability</text>
<text x="133.85" y="453.90" font-size="11.4" text-anchor="middle" textLength="25.5" lengthAdjust="spacingAndGlyphs">MLP</text>
<g clip-path="url(#c7)"><clipPath id="c7"><rect x="273.7" y="458.0" width="193.90000000000003" height="175.29999999999995"/></clipPath><line x1="282.51" y1="625.33" x2="458.79" y2="465.97" stroke="#959595" stroke-width="1.35" stroke-dasharray="1.2 1.8" /><ellipse cx="326.1" cy="588.7" rx="11.20" ry="10.42" fill="#808080" fill-opacity="0.4"/><ellipse cx="343.3" cy="570.4" rx="8.80" ry="8.18" fill="#808080" fill-opacity="0.4"/><ellipse cx="361.1" cy="538.3" rx="7.10" ry="6.60" fill="#808080" fill-opacity="0.4"/><ellipse cx="378.1" cy="510.1" rx="5.70" ry="5.30" fill="#808080" fill-opacity="0.4"/><ellipse cx="395.4" cy="487.6" rx="4.30" ry="4.00" fill="#808080" fill-opacity="0.4"/><ellipse cx="415.1" cy="477.2" rx="3.20" ry="2.98" fill="#808080" fill-opacity="0.4"/><ellipse cx="434.9" cy="465.1" rx="2.90" ry="2.70" fill="#808080" fill-opacity="0.4"/><ellipse cx="448.6" cy="465.1" rx="2.90" ry="2.70" fill="#808080" fill-opacity="0.4"/><path d="M310.2,609.6 L326.1,588.7 L343.3,570.4 L361.1,538.3 L378.1,510.1 L395.4,487.6 L415.1,477.2 L434.9,465.1 L448.6,465.1" fill="none" stroke="#2a7acc" stroke-width="1.3" stroke-dasharray="1.2 1.7"/><circle cx="310.2" cy="609.6" r="1.5" fill="#1f63c4"/><circle cx="326.1" cy="588.7" r="1.5" fill="#1f63c4"/><circle cx="343.3" cy="570.4" r="1.5" fill="#1f63c4"/><circle cx="361.1" cy="538.3" r="1.5" fill="#1f63c4"/><circle cx="378.1" cy="510.1" r="1.5" fill="#1f63c4"/><circle cx="395.4" cy="487.6" r="1.5" fill="#1f63c4"/><circle cx="415.1" cy="477.2" r="1.5" fill="#1f63c4"/><circle cx="434.9" cy="465.1" r="1.5" fill="#1f63c4"/><circle cx="448.6" cy="465.1" r="1.5" fill="#1f63c4"/></g>
<rect x="273.7" y="458.0" width="193.90" height="175.30" fill="none" stroke="#7a7a7a" stroke-width="1"/>
<line x1="282.51" y1="633.3" x2="282.51" y2="635.5" stroke="#7a7a7a" stroke-width="0.8"/>
<text x="282.11" y="645.30" font-size="10.0" text-anchor="middle" textLength="16.4" lengthAdjust="spacingAndGlyphs">0.0</text>
<line x1="271.8" y1="625.33" x2="273.7" y2="625.33" stroke="#7a7a7a" stroke-width="0.8"/>
<text x="268.70" y="629.23" font-size="10.0" text-anchor="end" textLength="17.0" lengthAdjust="spacingAndGlyphs">0.0</text>
<line x1="317.77" y1="633.3" x2="317.77" y2="635.5" stroke="#7a7a7a" stroke-width="0.8"/>
<text x="317.37" y="645.30" font-size="10.0" text-anchor="middle" textLength="16.4" lengthAdjust="spacingAndGlyphs">0.2</text>
<line x1="271.8" y1="593.46" x2="273.7" y2="593.46" stroke="#7a7a7a" stroke-width="0.8"/>
<text x="268.70" y="597.36" font-size="10.0" text-anchor="end" textLength="17.0" lengthAdjust="spacingAndGlyphs">0.2</text>
<line x1="353.02" y1="633.3" x2="353.02" y2="635.5" stroke="#7a7a7a" stroke-width="0.8"/>
<text x="352.62" y="645.30" font-size="10.0" text-anchor="middle" textLength="16.4" lengthAdjust="spacingAndGlyphs">0.4</text>
<line x1="271.8" y1="561.59" x2="273.7" y2="561.59" stroke="#7a7a7a" stroke-width="0.8"/>
<text x="268.70" y="565.49" font-size="10.0" text-anchor="end" textLength="17.0" lengthAdjust="spacingAndGlyphs">0.4</text>
<line x1="388.28" y1="633.3" x2="388.28" y2="635.5" stroke="#7a7a7a" stroke-width="0.8"/>
<text x="387.88" y="645.30" font-size="10.0" text-anchor="middle" textLength="16.4" lengthAdjust="spacingAndGlyphs">0.6</text>
<line x1="271.8" y1="529.71" x2="273.7" y2="529.71" stroke="#7a7a7a" stroke-width="0.8"/>
<text x="268.70" y="533.61" font-size="10.0" text-anchor="end" textLength="17.0" lengthAdjust="spacingAndGlyphs">0.6</text>
<line x1="423.53" y1="633.3" x2="423.53" y2="635.5" stroke="#7a7a7a" stroke-width="0.8"/>
<text x="423.13" y="645.30" font-size="10.0" text-anchor="middle" textLength="16.4" lengthAdjust="spacingAndGlyphs">0.8</text>
<line x1="271.8" y1="497.84" x2="273.7" y2="497.84" stroke="#7a7a7a" stroke-width="0.8"/>
<text x="268.70" y="501.74" font-size="10.0" text-anchor="end" textLength="17.0" lengthAdjust="spacingAndGlyphs">0.8</text>
<line x1="458.79" y1="633.3" x2="458.79" y2="635.5" stroke="#7a7a7a" stroke-width="0.8"/>
<text x="458.39" y="645.30" font-size="10.0" text-anchor="middle" textLength="16.4" lengthAdjust="spacingAndGlyphs">1.0</text>
<line x1="271.8" y1="465.97" x2="273.7" y2="465.97" stroke="#7a7a7a" stroke-width="0.8"/>
<text x="268.70" y="469.87" font-size="10.0" text-anchor="end" textLength="17.0" lengthAdjust="spacingAndGlyphs">1.0</text>
<text x="369.95" y="657.30" font-size="10.8" text-anchor="middle" textLength="118.5" lengthAdjust="spacingAndGlyphs">Predicted Probability</text>
<text transform="translate(245.40,545.65) rotate(-90)" x="0" y="0" font-size="10.8" text-anchor="middle" textLength="93.5" lengthAdjust="spacingAndGlyphs">Actual Probability</text>
<text x="370.05" y="454.90" font-size="11.4" text-anchor="middle" textLength="14.5" lengthAdjust="spacingAndGlyphs">RF</text>
<g clip-path="url(#c8)"><clipPath id="c8"><rect x="512.5" y="458.5" width="193.60000000000002" height="175.79999999999995"/></clipPath><line x1="521.30" y1="626.31" x2="697.30" y2="466.49" stroke="#959595" stroke-width="1.35" stroke-dasharray="1.2 1.8" /><ellipse cx="527.9" cy="609.3" rx="11.80" ry="10.97" fill="#808080" fill-opacity="0.4"/><ellipse cx="546.3" cy="584.9" rx="6.80" ry="6.32" fill="#808080" fill-opacity="0.4"/><ellipse cx="564.9" cy="581.3" rx="5.70" ry="5.30" fill="#808080" fill-opacity="0.4"/><ellipse cx="582.4" cy="569.0" rx="4.60" ry="4.28" fill="#808080" fill-opacity="0.4"/><ellipse cx="599.7" cy="548.4" rx="4.00" ry="3.72" fill="#808080" fill-opacity="0.4"/><ellipse cx="618.1" cy="555.8" rx="4.00" ry="3.72" fill="#808080" fill-opacity="0.4"/><ellipse cx="634.8" cy="531.4" rx="4.00" ry="3.72" fill="#808080" fill-opacity="0.4"/><ellipse cx="652.3" cy="524.6" rx="3.50" ry="3.26" fill="#808080" fill-opacity="0.4"/><ellipse cx="670.4" cy="506.5" rx="3.20" ry="2.98" fill="#808080" fill-opacity="0.4"/><ellipse cx="692.0" cy="474.4" rx="4.60" ry="4.28" fill="#808080" fill-opacity="0.4"/><path d="M527.9,609.3 L546.3,584.9 L564.9,581.3 L582.4,569.0 L599.7,548.4 L618.1,555.8 L634.8,531.4 L652.3,524.6 L670.4,506.5 L692.0,474.4" fill="none" stroke="#2a7acc" stroke-width="1.3" stroke-dasharray="1.2 1.7"/><circle cx="527.9" cy="609.3" r="1.5" fill="#1f63c4"/><circle cx="546.3" cy="584.9" r="1.5" fill="#1f63c4"/><circle cx="564.9" cy="581.3" r="1.5" fill="#1f63c4"/><circle cx="582.4" cy="569.0" r="1.5" fill="#1f63c4"/><circle cx="599.7" cy="548.4" r="1.5" fill="#1f63c4"/><circle cx="618.1" cy="555.8" r="1.5" fill="#1f63c4"/><circle cx="634.8" cy="531.4" r="1.5" fill="#1f63c4"/><circle cx="652.3" cy="524.6" r="1.5" fill="#1f63c4"/><circle cx="670.4" cy="506.5" r="1.5" fill="#1f63c4"/><circle cx="692.0" cy="474.4" r="1.5" fill="#1f63c4"/></g>
<rect x="512.5" y="458.5" width="193.60" height="175.80" fill="none" stroke="#7a7a7a" stroke-width="1"/>
<line x1="521.30" y1="634.3" x2="521.30" y2="636.5" stroke="#7a7a7a" stroke-width="0.8"/>
<text x="520.90" y="646.30" font-size="10.0" text-anchor="middle" textLength="16.4" lengthAdjust="spacingAndGlyphs">0.0</text>
<line x1="510.6" y1="626.31" x2="512.5" y2="626.31" stroke="#7a7a7a" stroke-width="0.8"/>
<text x="507.50" y="630.21" font-size="10.0" text-anchor="end" textLength="17.0" lengthAdjust="spacingAndGlyphs">0.0</text>
<line x1="556.50" y1="634.3" x2="556.50" y2="636.5" stroke="#7a7a7a" stroke-width="0.8"/>
<text x="556.10" y="646.30" font-size="10.0" text-anchor="middle" textLength="16.4" lengthAdjust="spacingAndGlyphs">0.2</text>
<line x1="510.6" y1="594.35" x2="512.5" y2="594.35" stroke="#7a7a7a" stroke-width="0.8"/>
<text x="507.50" y="598.25" font-size="10.0" text-anchor="end" textLength="17.0" lengthAdjust="spacingAndGlyphs">0.2</text>
<line x1="591.70" y1="634.3" x2="591.70" y2="636.5" stroke="#7a7a7a" stroke-width="0.8"/>
<text x="591.30" y="646.30" font-size="10.0" text-anchor="middle" textLength="16.4" lengthAdjust="spacingAndGlyphs">0.4</text>
<line x1="510.6" y1="562.38" x2="512.5" y2="562.38" stroke="#7a7a7a" stroke-width="0.8"/>
<text x="507.50" y="566.28" font-size="10.0" text-anchor="end" textLength="17.0" lengthAdjust="spacingAndGlyphs">0.4</text>
<line x1="626.90" y1="634.3" x2="626.90" y2="636.5" stroke="#7a7a7a" stroke-width="0.8"/>
<text x="626.50" y="646.30" font-size="10.0" text-anchor="middle" textLength="16.4" lengthAdjust="spacingAndGlyphs">0.6</text>
<line x1="510.6" y1="530.42" x2="512.5" y2="530.42" stroke="#7a7a7a" stroke-width="0.8"/>
<text x="507.50" y="534.32" font-size="10.0" text-anchor="end" textLength="17.0" lengthAdjust="spacingAndGlyphs">0.6</text>
<line x1="662.10" y1="634.3" x2="662.10" y2="636.5" stroke="#7a7a7a" stroke-width="0.8"/>
<text x="661.70" y="646.30" font-size="10.0" text-anchor="middle" textLength="16.4" lengthAdjust="spacingAndGlyphs">0.8</text>
<line x1="510.6" y1="498.45" x2="512.5" y2="498.45" stroke="#7a7a7a" stroke-width="0.8"/>
<text x="507.50" y="502.35" font-size="10.0" text-anchor="end" textLength="17.0" lengthAdjust="spacingAndGlyphs">0.8</text>
<line x1="697.30" y1="634.3" x2="697.30" y2="636.5" stroke="#7a7a7a" stroke-width="0.8"/>
<text x="696.90" y="646.30" font-size="10.0" text-anchor="middle" textLength="16.4" lengthAdjust="spacingAndGlyphs">1.0</text>
<line x1="510.6" y1="466.49" x2="512.5" y2="466.49" stroke="#7a7a7a" stroke-width="0.8"/>
<text x="507.50" y="470.39" font-size="10.0" text-anchor="end" textLength="17.0" lengthAdjust="spacingAndGlyphs">1.0</text>
<text x="608.60" y="658.30" font-size="10.8" text-anchor="middle" textLength="118.5" lengthAdjust="spacingAndGlyphs">Predicted Probability</text>
<text transform="translate(484.20,546.40) rotate(-90)" x="0" y="0" font-size="10.8" text-anchor="middle" textLength="93.5" lengthAdjust="spacingAndGlyphs">Actual Probability</text>
<text x="608.70" y="455.40" font-size="11.4" text-anchor="middle" textLength="26.0" lengthAdjust="spacingAndGlyphs">XGB</text>
<rect x="43.6" y="19.6" width="65.2" height="18.6" rx="2" ry="2" fill="#fff" fill-opacity="0.8" stroke="#d8d8d8" stroke-width="0.8"/>
<line x1="47.4" y1="27.7" x2="70.7" y2="27.7" stroke="#5a5a5a" stroke-width="1.1" stroke-dasharray="1.1 2.2"/>
<text x="92.1" y="31.5" font-size="10.8" text-anchor="middle" textLength="23" lengthAdjust="spacingAndGlyphs">y=x</text>
</svg>
</body></html>
